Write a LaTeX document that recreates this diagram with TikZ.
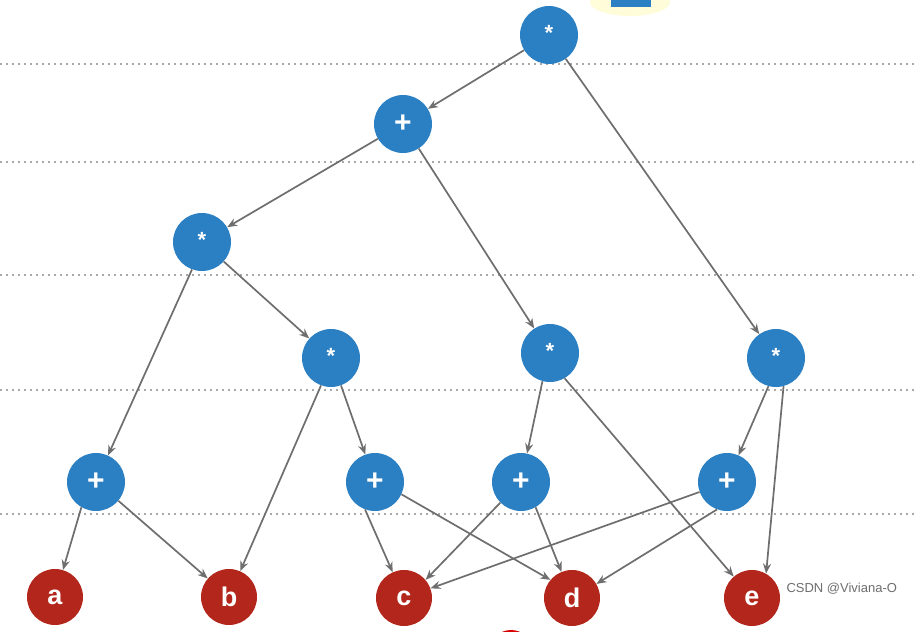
\documentclass[tikz,border=0pt]{standalone}
\usepackage{fontspec}
\setmainfont{Liberation Sans}
\usetikzlibrary{arrows.meta}
\definecolor{nblue}{HTML}{2B7FC3}
\definecolor{nred}{HTML}{B3261B}
\definecolor{egray}{HTML}{6E6E6E}
\definecolor{lgray}{HTML}{A8A8A8}
\tikzset{
  opnode/.style={circle, fill=nblue, minimum size=58pt, inner sep=0pt, text=white},
  mulnode/.style={opnode, font=\fontsize{22}{22}\selectfont\bfseries},
  addnode/.style={opnode, font=\fontsize{30}{30}\selectfont\bfseries},
  leafnode/.style={circle, fill=nred, minimum size=56pt, inner sep=0pt, text=white, font=\fontsize{27}{27}\selectfont\bfseries},
  edge/.style={draw=egray, line width=1.7pt, -{Stealth[length=10pt,width=8pt]}},
  guide/.style={draw=lgray, line width=1.2pt, dash pattern=on 2pt off 4pt}
}
\begin{document}
\begin{tikzpicture}[x=1pt,y=-1pt]
\useasboundingbox (0,0) rectangle (914,632);
\fill[white] (0,0) rectangle (914,632);
% guides
\foreach \yy in {64,162,275,390,514} \draw[guide] (0,\yy) -- (914,\yy);
% decorations
\fill[yellow!15] (630,2) ellipse (40pt and 14pt);
\fill[nblue] (611,-2) rectangle (651,7);
\fill[red!85!black] (511,652) circle (22pt);
% nodes
\node[mulnode] (m1) at (549,35) {\raisebox{4pt}{*}};
\node[addnode] (p1) at (403,124) {+};
\node[mulnode] (m2) at (202,242) {\raisebox{4pt}{*}};
\node[mulnode] (m3) at (331,358) {\raisebox{4pt}{*}};
\node[mulnode] (m4) at (550,353) {\raisebox{4pt}{*}};
\node[mulnode] (m5) at (776,358) {\raisebox{4pt}{*}};
\node[addnode] (p2) at (96,482) {+};
\node[addnode] (p3) at (375,482) {+};
\node[addnode] (p4) at (521,482) {+};
\node[addnode] (p5) at (727,482) {+};
\node[leafnode] (a) at (55,597) {a};
\node[leafnode] (b) at (229,597) {b};
\node[leafnode] (c) at (404,598) {c};
\node[leafnode] (d) at (572,598) {d};
\node[leafnode] (e) at (752,598) {e};
% edges
\draw[edge] (m1) -- (p1);
\draw[edge] (m1) -- (m5);
\draw[edge] (p1) -- (m2);
\draw[edge] (p1) -- (m4);
\draw[edge] (m2.250) -- (p2);
\draw[edge] (m2) -- (m3);
\draw[edge] (m3.250) -- (b);
\draw[edge] (m3.290) -- (p3);
\draw[edge] (m4.255) -- (p4);
\draw[edge] (m4.300) -- (e);
\draw[edge] (m5.255) -- (p5);
\draw[edge] (m5.285) -- (e.60);
\draw[edge] (p2.240) -- (a);
\draw[edge] (p2.320) -- (b);
\draw[edge] (p3.250) -- (c);
\draw[edge] (p3.335) -- (d.140);
\draw[edge] (p4.225) -- (c.40);
\draw[edge] (p4.300) -- (d);
\draw[edge] (p5.200) -- (c.20);
\draw[edge] (p5.250) -- (d.30);
% watermark
\node[text=egray, font=\fontsize{13}{13}\selectfont, anchor=west] (wm) at (783,589) {CSDN @Viviana-O};
\end{tikzpicture}
\end{document}
